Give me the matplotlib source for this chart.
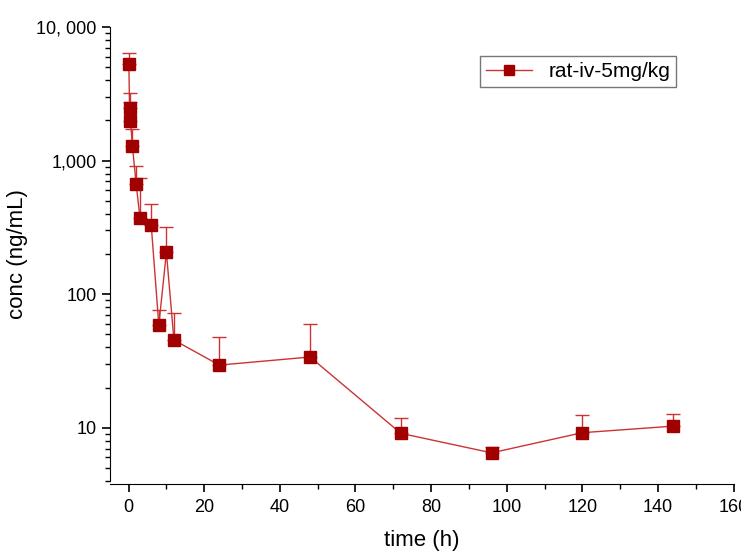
import matplotlib.pyplot as plt
from matplotlib.ticker import FixedLocator, LogLocator, MultipleLocator, NullFormatter

plt.rcParams['font.family'] = ['Liberation Sans', 'DejaVu Sans']

# Plasma concentration data (mean and upper SD)
time_h = [0.083, 0.25, 0.5, 1, 2, 3, 6, 8, 10, 12, 24, 48, 72, 96, 120, 144]
conc = [5320, 2490, 1990, 1290, 673, 375, 327, 58.7, 206, 45.4, 29.5, 33.9, 9.1, 6.5, 9.2, 10.3]
conc_sd = [1080, 730, 765, 440, 245, 370, 150, 17, 110, 27, 18, 26, 2.7, 0.7, 3.3, 2.3]

y_ticks = [10, 100, 1000, 10000]
y_tick_labels = ['10', '100', '1,000', '10, 000']

fig = plt.figure(figsize=(7.41, 5.51), dpi=100)
ax = fig.add_axes([0.148, 0.127, 0.842, 0.824])

ax.errorbar(time_h, conc, yerr=[[0] * len(conc_sd), conc_sd],
            fmt='none', ecolor='#cc3333', elinewidth=1.0, capsize=5, capthick=1.0)
ax.plot(time_h, conc, color='#cc3333', lw=1.0, marker='s', markersize=8.5,
        markerfacecolor='#a00000', markeredgecolor='#a00000', label='rat-iv-5mg/kg')

ax.set_yscale('log')
ax.set_ylim(4, 10000)
ax.set_xlim(-5, 160)

ax.yaxis.set_major_locator(FixedLocator(y_ticks))
ax.set_yticklabels(y_tick_labels)
ax.yaxis.set_minor_locator(LogLocator(base=10, subs=range(2, 10)))
ax.yaxis.set_minor_formatter(NullFormatter())
ax.xaxis.set_major_locator(MultipleLocator(20))
ax.xaxis.set_minor_locator(MultipleLocator(10))

for s in ['top', 'right']:
    ax.spines[s].set_visible(False)
ax.spines['bottom'].set_position(('outward', 2))
ax.tick_params(which='major', direction='out', length=6, width=1.2, labelsize=13)
ax.tick_params(which='minor', direction='out', length=3.5, width=1.0)
ax.tick_params(axis='x', pad=5)

ax.set_xlabel('time (h)', fontsize=16, labelpad=10)
ax.set_ylabel('conc (ng/mL)', fontsize=16, labelpad=6)

leg = ax.legend(loc='upper right', bbox_to_anchor=(0.925, 0.96), fontsize=15,
                frameon=True, fancybox=False, handlelength=2.2, borderpad=0.3,
                markerscale=0.8)
leg.get_frame().set_edgecolor('#555555')
leg.get_frame().set_linewidth(1.0)

fig.savefig('out.png', dpi=100)
